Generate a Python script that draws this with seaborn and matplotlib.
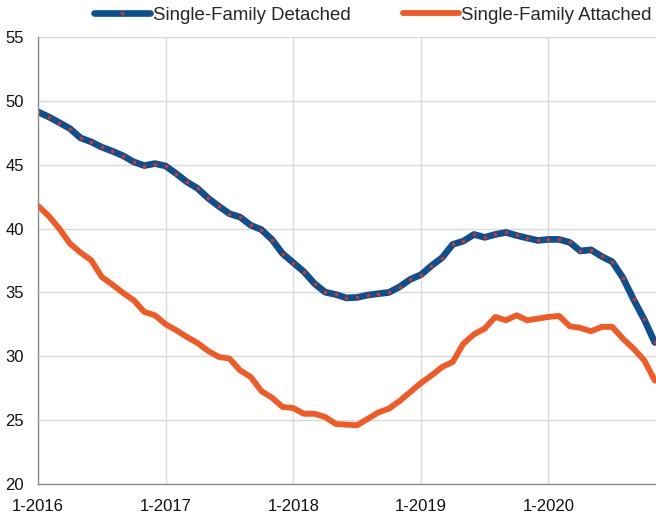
import numpy as np
import pandas as pd
import seaborn as sns
from matplotlib import pyplot as plt

# monthly values, 1-2016 .. 11-2020
detached = [
    49.14, 48.75, 48.30, 47.83, 47.10, 46.79, 46.37, 46.06, 45.70, 45.22, 44.93, 45.09,
    44.90, 44.30, 43.65, 43.15, 42.38, 41.75, 41.16, 40.90, 40.26, 39.92, 39.14, 38.04,
    37.33, 36.62, 35.69, 35.02, 34.84, 34.57, 34.61, 34.79, 34.90, 35.00, 35.44, 36.02,
    36.38, 37.09, 37.72, 38.76, 39.02, 39.54, 39.31, 39.54, 39.70, 39.46, 39.26, 39.07,
    39.15, 39.15, 38.92, 38.24, 38.34, 37.82, 37.40, 36.15, 34.45, 32.89, 31.08,
]
attached = [
    41.78, 40.99, 40.00, 38.83, 38.12, 37.52, 36.21, 35.61, 34.96, 34.39, 33.47, 33.21,
    32.51, 32.04, 31.51, 31.04, 30.42, 29.95, 29.82, 28.90, 28.38, 27.28, 26.76, 26.03,
    25.95, 25.50, 25.50, 25.25, 24.70, 24.65, 24.60, 25.10, 25.60, 25.90, 26.50, 27.20,
    27.90, 28.50, 29.16, 29.56, 30.99, 31.72, 32.17, 33.08, 32.82, 33.21, 32.82, 32.95,
    33.08, 33.16, 32.35, 32.22, 31.96, 32.30, 32.30, 31.38, 30.60, 29.69, 28.10,
]
tick_labels = ["1-2016", "1-2017", "1-2018", "1-2019", "1-2020"]

df = pd.DataFrame({
    "month": np.arange(len(detached)),
    "Single-Family Detached": detached,
    "Single-Family Attached": attached,
})

sns.set_style("white")
plt.rcParams["font.family"] = ["Liberation Sans", "DejaVu Sans"]

fig = plt.figure(figsize=(6.56, 5.14), dpi=100)
ax = fig.add_axes([38 / 656, 30 / 514, 620 / 656, 447 / 514])

sns.lineplot(
    data=df, x="month", y="Single-Family Detached", ax=ax,
    color="#0d4f8f", linewidth=4.8, marker="o", markersize=2.6,
    markerfacecolor="#d8342c", markeredgewidth=0,
    label="Single-Family Detached",
)
sns.lineplot(
    data=df, x="month", y="Single-Family Attached", ax=ax,
    color="#f15a24", linewidth=4.2, marker="o", markersize=2.6,
    markeredgewidth=0,
    label="Single-Family Attached",
)

ax.set_xlim(0, 58.3)
ax.set_ylim(20, 55)
ax.set_xticks(np.arange(0, 60, 12))
ax.set_xticklabels(tick_labels)
ax.set_yticks(np.arange(20, 56, 5))
ax.set_xlabel("")
ax.set_ylabel("")

ax.grid(True, color="#d9d9d9", linewidth=1.0)
ax.set_axisbelow(True)
for side in ["top", "right"]:
    ax.spines[side].set_visible(False)
for side in ["left", "bottom"]:
    ax.spines[side].set_color("#8c8c8c")
    ax.spines[side].set_linewidth(1.0)
ax.tick_params(axis="both", direction="out", length=4, width=1.0,
               color="#8c8c8c", labelsize=12, labelcolor="#111111")
ax.tick_params(axis="y", pad=6)
ax.tick_params(axis="x", pad=7)

ax.legend(
    loc="center left", bbox_to_anchor=(94 / 656, 1 - 15 / 514),
    bbox_transform=fig.transFigure, ncol=2, frameon=False,
    fontsize=13.4, handlelength=3.0, handletextpad=0.16, columnspacing=2.8,
    borderpad=0, borderaxespad=0,
)

fig.savefig("out.png", dpi=100)
